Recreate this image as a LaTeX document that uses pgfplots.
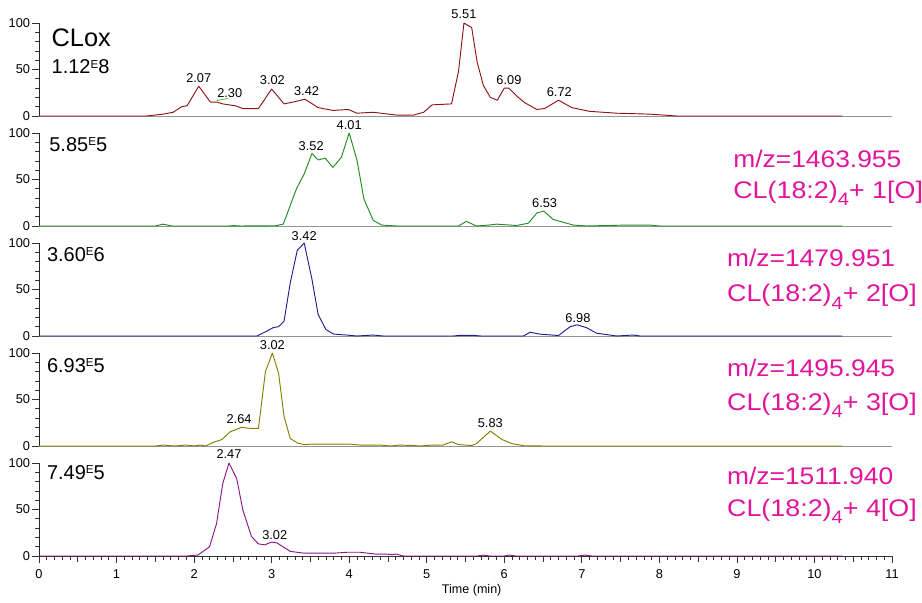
\documentclass[border=0pt]{standalone}
\usepackage{fontspec}
\setmainfont{Liberation Sans}
\usepackage{pgfplots}
\pgfplotsset{compat=1.18}

\definecolor{cred}{RGB}{140,20,20}
\definecolor{cgreen}{RGB}{30,140,30}
\definecolor{cnavy}{RGB}{30,30,140}
\definecolor{colive}{RGB}{128,128,0}
\definecolor{cpurple}{RGB}{140,20,140}
\definecolor{cmag}{RGB}{225,20,155}
\definecolor{cleader}{RGB}{60,190,60}

\newcommand{\pk}[1]{{\fontsize{9.6}{10}\selectfont #1}}
\newcommand{\sci}[2]{{\fontsize{15}{16}\selectfont #1\raisebox{4.3pt}{\fontsize{8.7}{9}\selectfont E}#2}}
\newcommand{\mz}[1]{{\color{cmag}\fontsize{18}{20}\selectfont\scalebox{1.1}[1]{#1}}}
\newcommand{\clo}[1]{{\color{cmag}\fontsize{18}{20}\selectfont\scalebox{1.12}[1]{CL(18:2)\raisebox{-5.5pt}{\fontsize{13.5}{14}\selectfont 4}+ #1[O]}}}

\pgfplotsset{
  panel/.style={
    scale only axis, width=639.75pt, height=69.75pt,
    xmin=0, xmax=11, ymin=0, ymax=100,
    axis x line*=bottom, axis y line*=left,
    every outer x axis line/.append style={-},
    every outer y axis line/.append style={-},
    every inner x axis line/.append style={-},
    every inner y axis line/.append style={-},
    x axis line style={-, gray!85, line width=0.6pt},
    y axis line style={-, black!85, line width=0.6pt},
    ytick={0,50,100}, minor y tick num=4,
    tick align=outside,
    major tick length=5.5pt, minor tick length=2.8pt,
    tick style={black!80, line width=0.5pt},
    /pgf/number format/assume math mode=true,
    yticklabel style={font=\fontsize{9.6}{10}\selectfont, inner sep=1pt},
    xticklabel style={font=\fontsize{9.6}{10}\selectfont},
    clip=false,
    xtick=\empty,
  },
  data/.style={line width=0.7pt, line join=round, mark=none},
}

\begin{document}
\begin{tikzpicture}
\useasboundingbox (0,0) rectangle (691.5pt,452.25pt);

% ---------- Panel 1 : CLox ----------
\begin{axis}[panel, at={(29.25pt,365.25pt)}, anchor=south west]
\addplot[data, cred] coordinates {
(0,0) (1.39,0) (1.60,2) (1.73,4) (1.84,10) (1.91,11) (2.06,32) (2.21,15) (2.29,15) (2.37,13)
(2.53,11) (2.63,8) (2.83,8) (3.00,29) (3.16,13) (3.28,15) (3.43,18) (3.60,9) (3.79,6) (3.99,7)
(4.10,3) (4.31,4) (4.61,1) (4.83,1) (4.96,4) (5.07,12) (5.32,13) (5.41,48) (5.48,100) (5.58,95)
(5.65,58) (5.73,33) (5.82,20) (5.91,17) (6.00,30) (6.06,30) (6.18,20) (6.27,14) (6.42,7) (6.52,8)
(6.70,17) (6.87,9) (7.10,5) (7.45,3) (7.88,2) (8.22,0) (10.36,0)};
\draw[cleader, line width=0.6pt] (axis cs:2.29,16.5) -- (axis cs:2.44,19);
\node[anchor=base] at (axis cs:2.06,36) {\pk{2.07}};
\node[anchor=base] at (axis cs:2.46,19.7) {\pk{2.30}};
\node[anchor=base] at (axis cs:3.01,34.4) {\pk{3.02}};
\node[anchor=base] at (axis cs:3.45,21.5) {\pk{3.42}};
\node[anchor=base] at (axis cs:5.48,104.3) {\pk{5.51}};
\node[anchor=base] at (axis cs:6.06,34.4) {\pk{6.09}};
\node[anchor=base] at (axis cs:6.71,20.8) {\pk{6.72}};
\node[anchor=base west, inner sep=0pt] at (axis cs:0.16,74.5) {\fontsize{19}{20}\selectfont CLox};
\node[anchor=base west, inner sep=0pt] at (axis cs:0.16,45.2) {\sci{1.12}{8}};
\end{axis}

% ---------- Panel 2 : +1[O] ----------
\begin{axis}[panel, at={(29.25pt,282.75pt)}, anchor=south west]
\addplot[data, cgreen] coordinates {
(0,0) (1.50,0) (1.60,2) (1.71,0) (2.45,0) (2.50,0.5) (2.60,0) (3.05,0.3) (3.15,2) (3.32,40)
(3.42,56) (3.52,78) (3.60,71) (3.69,73) (3.79,63) (3.90,74) (4.00,100) (4.10,71) (4.19,29) (4.31,6)
(4.42,1) (4.61,0) (5.41,0) (5.51,5) (5.64,0) (5.80,1) (5.90,2) (6.16,0.5) (6.31,3) (6.42,14)
(6.51,16) (6.63,7) (6.89,1) (7.06,0) (7.58,1) (7.88,1) (8.00,0) (10.36,0)};
\node[anchor=base] at (axis cs:3.51,81.7) {\pk{3.52}};
\node[anchor=base] at (axis cs:4.00,104) {\pk{4.01}};
\node[anchor=base] at (axis cs:6.52,20.1) {\pk{6.53}};
\node[anchor=base west, inner sep=0pt] at (axis cs:0.13,79.9) {\sci{5.85}{5}};
\node[anchor=base west, inner sep=0pt] at (axis cs:8.95,63.4) {\mz{m/z=1463.955}};
\node[anchor=base west, inner sep=0pt] at (axis cs:8.95,30.1) {\clo{1}};
\end{axis}

% ---------- Panel 3 : +2[O] ----------
\begin{axis}[panel, at={(29.25pt,200.25pt)}, anchor=south west]
\addplot[data, cnavy] coordinates {
(0,0) (2.81,0) (2.91,4) (3.02,9) (3.09,10) (3.16,16) (3.24,57) (3.33,92) (3.42,100) (3.52,61)
(3.60,23) (3.70,7) (3.80,2) (3.97,1) (4.10,0) (4.31,1) (4.44,0) (5.34,0) (5.43,0.7) (5.60,0.7)
(5.70,0) (6.25,0) (6.33,4) (6.46,2) (6.70,0.5) (6.85,10) (6.94,12) (7.06,9) (7.19,3) (7.45,0)
(7.66,1) (7.75,0) (10.36,0)};
\node[anchor=base] at (axis cs:3.42,103.2) {\pk{3.42}};
\node[anchor=base] at (axis cs:6.95,15) {\pk{6.98}};
\node[anchor=base west, inner sep=0pt] at (axis cs:0.10,79.9) {\sci{3.60}{6}};
\node[anchor=base west, inner sep=0pt] at (axis cs:8.87,74.5) {\mz{m/z=1479.951}};
\node[anchor=base west, inner sep=0pt] at (axis cs:8.87,36.9) {\clo{2}};
\end{axis}

% ---------- Panel 4 : +3[O] ----------
\begin{axis}[panel, at={(29.25pt,117.75pt)}, anchor=south west]
\addplot[data, colive] coordinates {
(0,0) (1.50,0) (1.60,1) (1.75,0) (1.90,1) (2.00,0) (2.08,1) (2.15,0) (2.25,4) (2.36,7)
(2.46,15) (2.61,20) (2.72,19) (2.83,19) (2.92,80) (3.01,100) (3.09,78) (3.16,32) (3.24,8) (3.34,3)
(3.42,1.5) (3.52,2) (4.01,2) (4.14,1) (4.40,1) (4.53,0) (4.65,1) (4.83,0.5) (4.91,0) (5.08,1)
(5.21,1) (5.32,4.5) (5.41,1.5) (5.58,0.5) (5.64,2.5) (5.82,16) (5.97,7) (6.10,2.5) (6.25,0.3) (6.50,0)
(10.36,0)};
\node[anchor=base] at (axis cs:3.01,104) {\pk{3.02}};
\node[anchor=base] at (axis cs:2.58,23.7) {\pk{2.64}};
\node[anchor=base] at (axis cs:5.82,19.7) {\pk{5.83}};
\node[anchor=base west, inner sep=0pt] at (axis cs:0.10,79.2) {\sci{6.93}{5}};
\node[anchor=base west, inner sep=0pt] at (axis cs:8.87,74.5) {\mz{m/z=1495.945}};
\node[anchor=base west, inner sep=0pt] at (axis cs:8.87,38.7) {\clo{3}};
\end{axis}

% ---------- Panel 5 : +4[O] ----------
\begin{axis}[panel, at={(29.25pt,35.25pt)}, anchor=south west,
  xtick={0,1,...,11}, minor x tick num=9,
  extra x ticks={0.5,1.5,2.5,3.5,4.5,5.5,6.5,7.5,8.5,9.5,10.5},
  extra x tick labels={},
  extra x tick style={major tick length=4.2pt},
  x axis line style={-, black!80, line width=0.6pt},
  xticklabel style={yshift=-1pt}]
\addplot[data, cpurple] coordinates {
(0,0) (1.90,0) (2.05,1) (2.20,10) (2.29,35) (2.37,78) (2.45,100) (2.55,83) (2.63,49) (2.74,21)
(2.83,13) (2.91,12) (3.00,15) (3.07,14) (3.24,5) (3.42,3) (3.80,3) (3.97,4) (4.14,4) (4.35,2)
(4.48,2) (4.55,1.5) (4.61,2) (4.70,0) (5.65,0) (5.73,1) (5.81,0) (6.00,0) (6.07,1) (6.15,0)
(6.95,0) (7.04,1) (7.13,0) (10.36,0)};
\node[anchor=base] at (axis cs:2.45,104.3) {\pk{2.47}};
\node[anchor=base] at (axis cs:3.04,18) {\pk{3.02}};
\node[anchor=base west, inner sep=0pt] at (axis cs:0.10,82.5) {\sci{7.49}{5}};
\node[anchor=base west, inner sep=0pt] at (axis cs:8.87,77.4) {\mz{m/z=1511.940}};
\node[anchor=base west, inner sep=0pt] at (axis cs:8.87,42.3) {\clo{4}};
\node[anchor=base] at (axis cs:5.58,-39.8) {\fontsize{9.4}{10}\selectfont Time (min)};
\end{axis}
\end{tikzpicture}
\end{document}
